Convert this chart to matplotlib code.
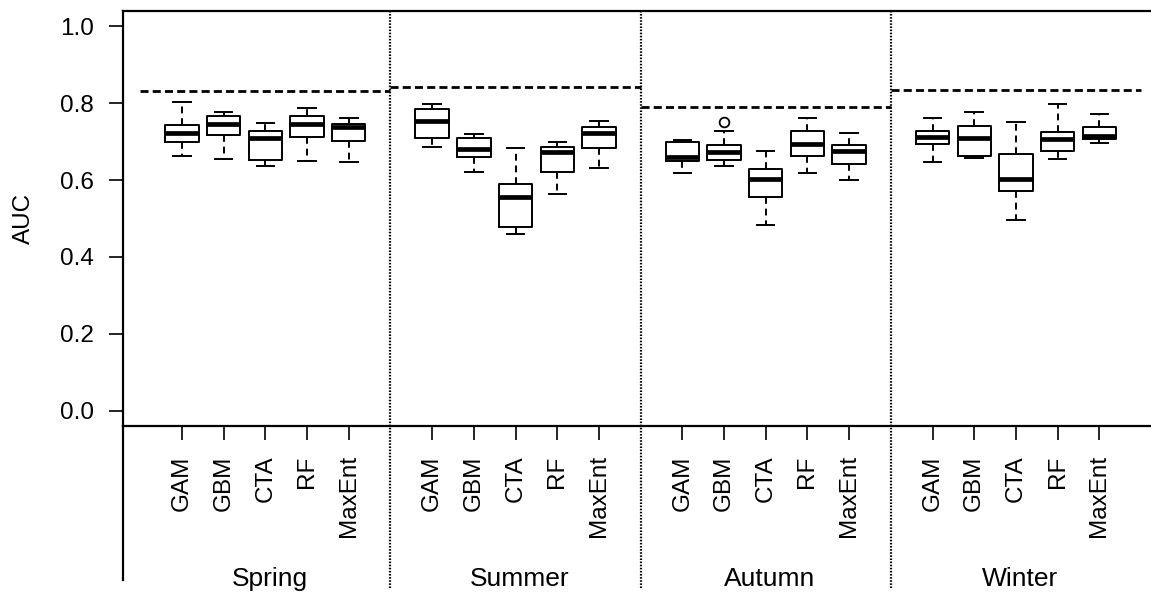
import matplotlib
matplotlib.use("Agg")
import matplotlib.pyplot as plt
import matplotlib.transforms as mtransforms
from matplotlib.ticker import FormatStrFormatter

plt.rcParams['font.family'] = ['Liberation Sans', 'DejaVu Sans']

seasons = ["Spring", "Summer", "Autumn", "Winter"]
models = ["GAM", "GBM", "CTA", "RF", "MaxEnt"]

# box summaries: [whisker low, Q1, median, Q3, whisker high]
spring = [[0.662, 0.699, 0.722, 0.744, 0.803],
          [0.656, 0.718, 0.747, 0.766, 0.778],
          [0.637, 0.652, 0.710, 0.728, 0.749],
          [0.649, 0.712, 0.747, 0.766, 0.787],
          [0.646, 0.702, 0.738, 0.747, 0.762]]
summer = [[0.687, 0.709, 0.753, 0.784, 0.799],
          [0.622, 0.659, 0.681, 0.709, 0.721],
          [0.460, 0.479, 0.557, 0.590, 0.684],
          [0.563, 0.622, 0.672, 0.687, 0.700],
          [0.631, 0.683, 0.722, 0.738, 0.753]]
autumn = [[0.619, 0.650, 0.660, 0.700, 0.703],
          [0.637, 0.653, 0.673, 0.690, 0.728],
          [0.483, 0.556, 0.602, 0.629, 0.675],
          [0.619, 0.662, 0.694, 0.728, 0.762],
          [0.601, 0.641, 0.676, 0.690, 0.722]]
winter = [[0.648, 0.694, 0.713, 0.728, 0.762],
          [0.657, 0.662, 0.709, 0.741, 0.778],
          [0.497, 0.572, 0.603, 0.668, 0.750],
          [0.656, 0.676, 0.706, 0.725, 0.797],
          [0.697, 0.706, 0.716, 0.737, 0.772]]
# outliers (only one in the whole figure: Autumn GBM)
outliers = {("Autumn", "GBM"): [0.750]}

# dashed reference AUC for each season
reference = [0.831, 0.842, 0.790, 0.835]

all_stats = [spring, summer, autumn, winter]

W, H = 1151, 594
fig = plt.figure(figsize=(W / 100, H / 100), dpi=100)
ax = fig.add_axes([123 / W, (H - 426) / H, 1 - 123 / W, (426 - 11) / H])

box_lw = 1.4
positions = []
labels = []
for g, season in enumerate(seasons):
    stats = []
    pos = []
    for i, m in enumerate(models):
        lo, q1, med, q3, hi = all_stats[g][i]
        stats.append(dict(whislo=lo, q1=q1, med=med, q3=q3, whishi=hi,
                          fliers=outliers.get((season, m), [])))
        pos.append(6 * g + i + 1)
    ax.bxp(stats, positions=pos, widths=0.8, capwidths=0.42, manage_ticks=False,
           boxprops=dict(color="black", lw=box_lw),
           medianprops=dict(color="black", lw=3.4, solid_capstyle="butt"),
           whiskerprops=dict(color="black", lw=box_lw, linestyle=(0, (3.5, 2.5))),
           capprops=dict(color="black", lw=box_lw),
           flierprops=dict(marker="o", markerfacecolor="none", markeredgecolor="black",
                           markersize=7, markeredgewidth=1.3))
    positions += pos
    labels += models
    # season reference line
    ax.plot([6 * g, 6 * g + 6], [reference[g], reference[g]], color="black",
            lw=2.0, linestyle=(0, (2.9, 1.5)))

# dotted separators between seasons, running down through the label area
for b in [6, 12, 18]:
    ax.plot([b, b], [-0.39, 1], transform=ax.get_xaxis_transform(), clip_on=False,
            color="black", lw=1.6, linestyle=(0, (0.7, 0.7)))

# left axis line continues below the plot
ax.plot([0, 0], [-0.371, 0], transform=ax.transAxes, clip_on=False, color="black", lw=1.6)

ax.set_xlim(-0.415, 24.24)
ax.set_ylim(-0.04, 1.04)
ax.set_yticks([0.0, 0.2, 0.4, 0.6, 0.8, 1.0])
ax.yaxis.set_major_formatter(FormatStrFormatter("%.1f"))
ax.set_xticks(positions)
ax.set_xticklabels(labels, rotation=90)

ax.tick_params(axis="both", direction="out", length=10, width=1.2, labelsize=17.5, pad=11)
ax.spines["right"].set_visible(False)
for s in ["left", "top", "bottom"]:
    ax.spines[s].set_linewidth(1.6)

fig.text(24 / W, 0.5 * ((H - 426) + (H - 11)) / H, "AUC", rotation=90,
         ha="center", va="center", fontsize=17.5)

trans = mtransforms.blended_transform_factory(ax.transData, fig.transFigure)
for g, season in enumerate(seasons):
    ax.text(6 * g + 3.1, (H - 586) / H, season, transform=trans, ha="center",
            va="baseline", fontsize=19)

fig.savefig("out.png", dpi=100)
